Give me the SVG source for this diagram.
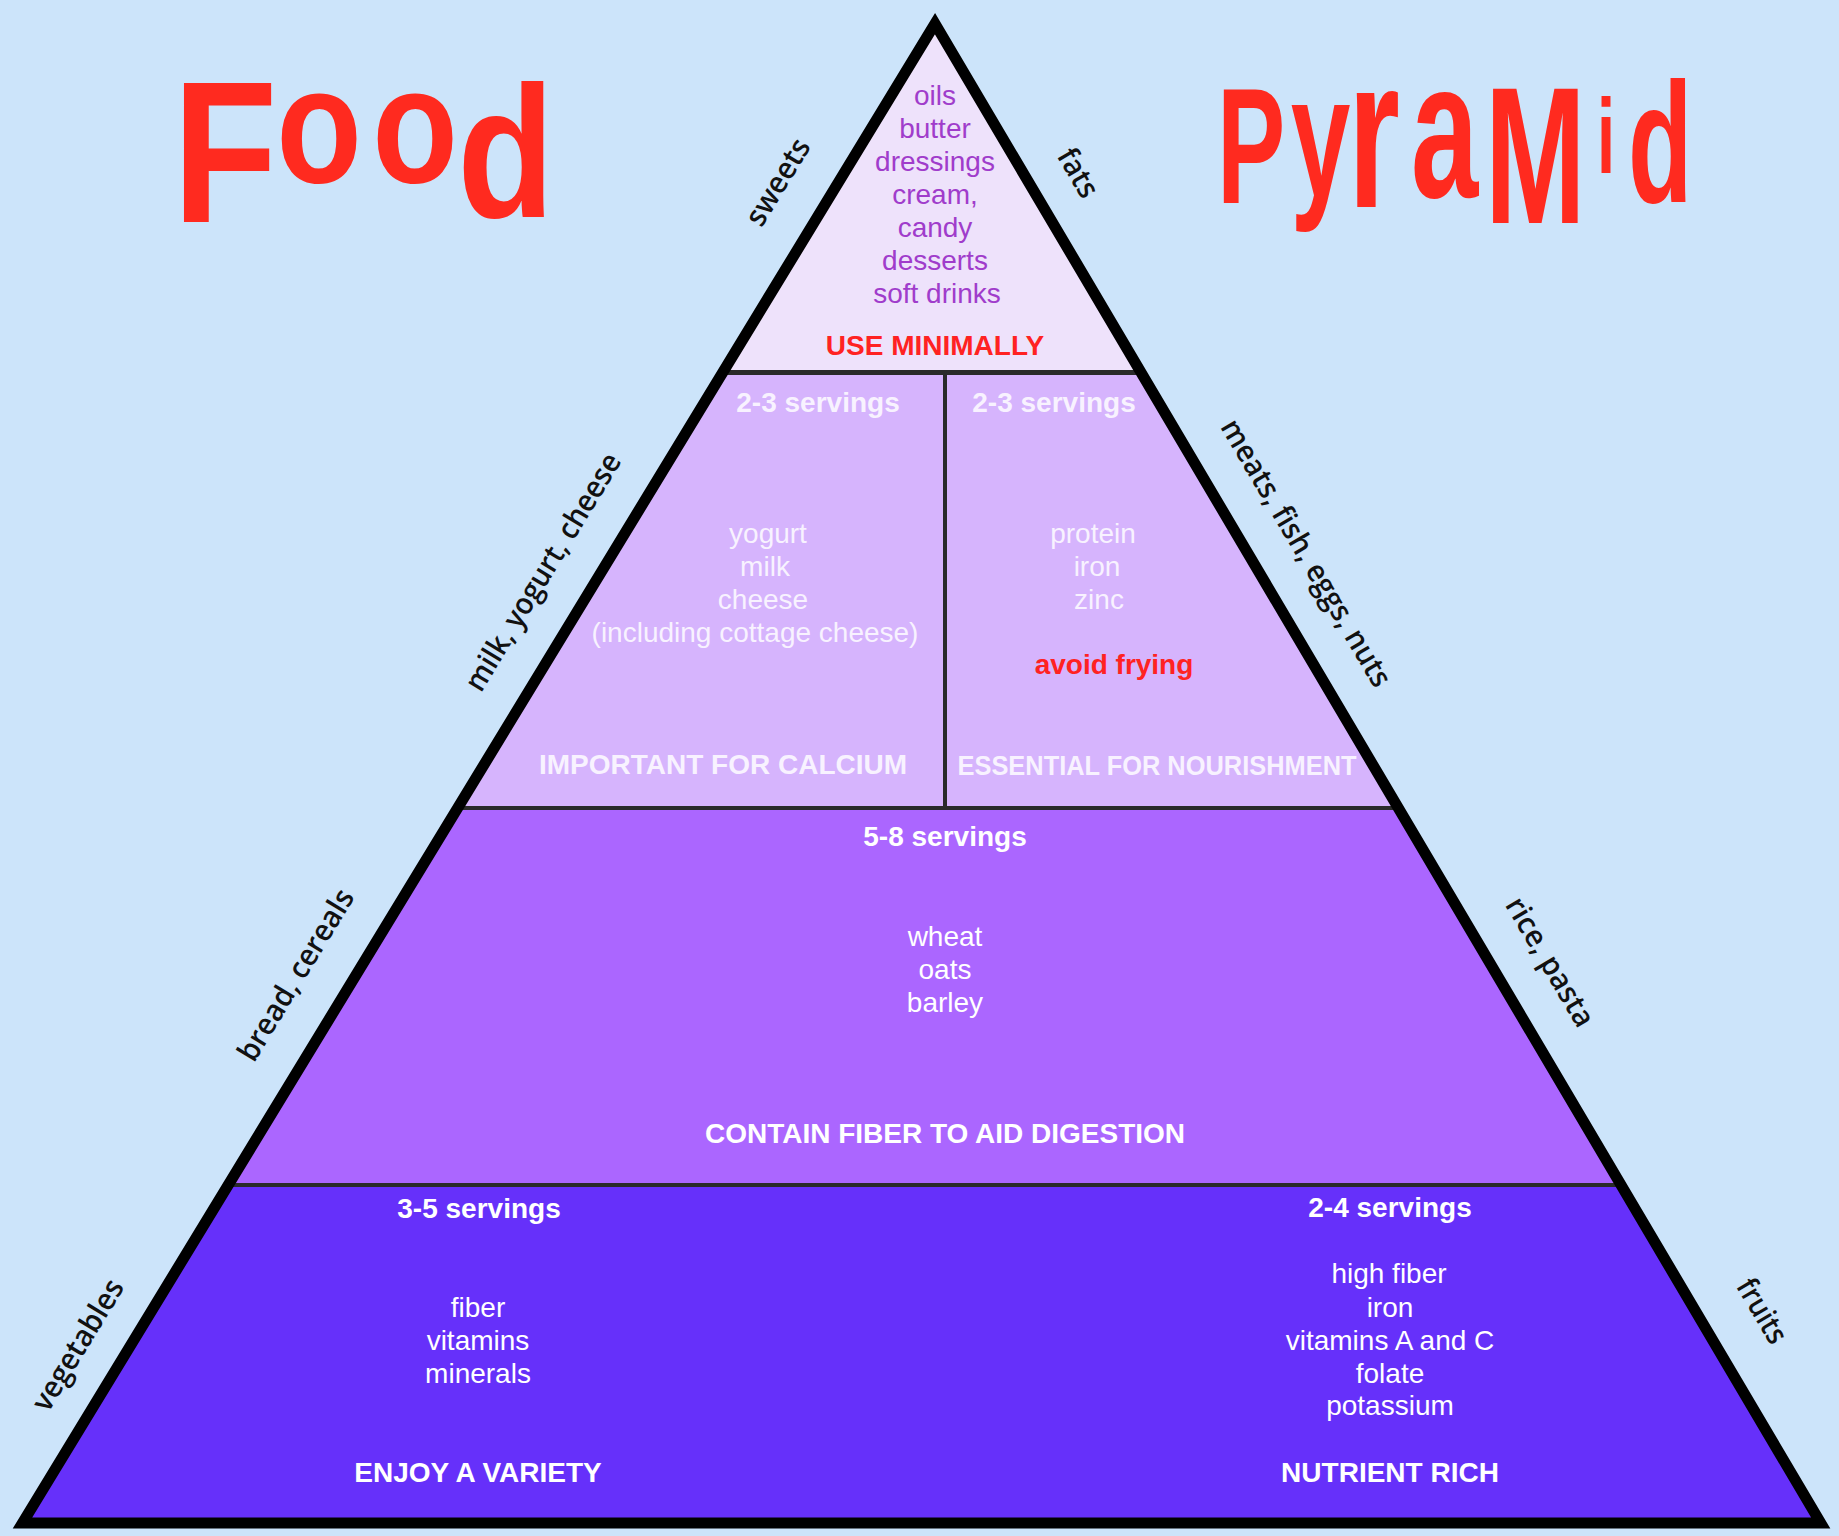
<svg xmlns="http://www.w3.org/2000/svg" width="1839" height="1536" viewBox="0 0 1839 1536">
<style>
.t{font-family:"Liberation Sans",Arial,Helvetica,sans-serif;text-anchor:middle;font-size:28px}
.b{font-weight:bold}
.w{fill:#ffffff}
.wf{fill:#f8f2ff}
.pur{fill:#a03ccb}
.red{fill:#ff2222}
.side{font-family:"Open Sans","Noto Sans","Liberation Sans",sans-serif;font-size:30px;font-weight:600;fill:#111111;text-anchor:middle}
.title{font-family:"Liberation Sans",Arial,sans-serif;font-weight:bold;fill:#ff2a1f}
.div{stroke:#2a2a2a;fill:none}
</style>
<defs>
<clipPath id="tri"><polygon points="935,23.7 22.5,1523 1820.7,1523"/></clipPath>
</defs>
<rect x="0" y="0" width="1839" height="1536" fill="#cce4fa"/>

<g id="title">
<text class="title" transform="scale(0.85,1)"><tspan x="203" y="222" font-size="202">F</tspan><tspan x="325" y="182" font-size="165">o</tspan><tspan x="438" y="182" font-size="165">o</tspan><tspan x="538" y="217" font-size="187">d</tspan></text>
<text class="title" transform="scale(0.62,1)"><tspan x="1963" y="203" font-size="165">P</tspan><tspan x="2082" y="196" font-size="173">y</tspan><tspan x="2174" y="207" font-size="215">r</tspan><tspan x="2276" y="197" font-size="195">a</tspan><tspan x="2395" y="223" font-size="195">M</tspan><tspan x="2576" y="173" font-size="105">i</tspan><tspan x="2626" y="202" font-size="170">d</tspan></text>
</g>

<g id="fills" clip-path="url(#tri)">
<rect x="0" y="0" width="1839" height="373" fill="#eee2fb"/>
<rect x="0" y="373" width="1839" height="435" fill="#d6b4fd"/>
<rect x="0" y="808" width="1839" height="377" fill="#ab66ff"/>
<rect x="0" y="1185" width="1839" height="351" fill="#6630fa"/>
</g>

<g id="connectors" clip-path="url(#tri)">
<line class="div" x1="0" y1="372.5" x2="1839" y2="372.5" stroke-width="5"/>
<line class="div" x1="0" y1="808" x2="1839" y2="808" stroke-width="4"/>
<line class="div" x1="0" y1="1185" x2="1839" y2="1185" stroke-width="4"/>
<line class="div" x1="945" y1="372" x2="945" y2="808" stroke-width="4"/>
</g>

<g id="outline">
<polygon points="935,23.7 22.5,1523 1820.7,1523" fill="none" stroke="#000000" stroke-width="11" stroke-linejoin="miter"/>
</g>

<g id="tier-fats">
<text class="t pur" x="935" y="105">oils</text>
<text class="t pur" x="935" y="138">butter</text>
<text class="t pur" x="935" y="171">dressings</text>
<text class="t pur" x="935" y="204">cream,</text>
<text class="t pur" x="935" y="237">candy</text>
<text class="t pur" x="935" y="270">desserts</text>
<text class="t pur" x="937" y="303">soft drinks</text>
<text class="t b red" x="935" y="355">USE MINIMALLY</text>
</g>

<g id="tier-dairy">
<text class="t b wf" x="818" y="412">2-3 servings</text>
<text class="t wf" x="768" y="543">yogurt</text>
<text class="t wf" x="765" y="576">milk</text>
<text class="t wf" x="763" y="609">cheese</text>
<text class="t wf" x="755" y="642">(including cottage cheese)</text>
<text class="t b wf" x="723" y="774">IMPORTANT FOR CALCIUM</text>
</g>

<g id="tier-protein">
<text class="t b wf" x="1054" y="412">2-3 servings</text>
<text class="t wf" x="1093" y="543">protein</text>
<text class="t wf" x="1097" y="576">iron</text>
<text class="t wf" x="1099" y="609">zinc</text>
<text class="t b red" x="1114" y="674">avoid frying</text>
<text class="t b wf" x="1157" y="775" textLength="399" lengthAdjust="spacingAndGlyphs">ESSENTIAL FOR NOURISHMENT</text>
</g>

<g id="tier-grains">
<text class="t b w" x="945" y="846">5-8 servings</text>
<text class="t w" x="945" y="946">wheat</text>
<text class="t w" x="945" y="979">oats</text>
<text class="t w" x="945" y="1012">barley</text>
<text class="t b w" x="945" y="1143">CONTAIN FIBER TO AID DIGESTION</text>
</g>

<g id="tier-vegetables">
<text class="t b w" x="479" y="1218">3-5 servings</text>
<text class="t w" x="478" y="1317">fiber</text>
<text class="t w" x="478" y="1350">vitamins</text>
<text class="t w" x="478" y="1383">minerals</text>
<text class="t b w" x="478" y="1482">ENJOY A VARIETY</text>
</g>

<g id="tier-fruits">
<text class="t b w" x="1390" y="1217">2-4 servings</text>
<text class="t w" x="1389" y="1283">high fiber</text>
<text class="t w" x="1390" y="1317">iron</text>
<text class="t w" x="1390" y="1350">vitamins A and C</text>
<text class="t w" x="1390" y="1383">folate</text>
<text class="t w" x="1390" y="1415">potassium</text>
<text class="t b w" x="1390" y="1482">NUTRIENT RICH</text>
</g>

<g id="side-labels">
<text class="side" transform="translate(778,182) rotate(-58.7)" y="10" textLength="96" lengthAdjust="spacingAndGlyphs">sweets</text>
<text class="side" transform="translate(543,572) rotate(-58.7)" y="10" textLength="272" lengthAdjust="spacingAndGlyphs">milk, yogurt, cheese</text>
<text class="side" transform="translate(296,975) rotate(-58.7)" y="10" textLength="195" lengthAdjust="spacingAndGlyphs">bread, cereals</text>
<text class="side" transform="translate(78,1345) rotate(-58.7)" y="10" textLength="148" lengthAdjust="spacingAndGlyphs">vegetables</text>
<text class="side" transform="translate(1078,173) rotate(59.4)" y="10" textLength="52" lengthAdjust="spacingAndGlyphs">fats</text>
<text class="side" transform="translate(1306,553) rotate(59.4)" y="10" textLength="305" lengthAdjust="spacingAndGlyphs">meats, fish, eggs, nuts</text>
<text class="side" transform="translate(1550,962) rotate(59.4)" y="10" textLength="145" lengthAdjust="spacingAndGlyphs">rice, pasta</text>
<text class="side" transform="translate(1762,1311) rotate(59.4)" y="10" textLength="70" lengthAdjust="spacingAndGlyphs">fruits</text>
</g>
</svg>
